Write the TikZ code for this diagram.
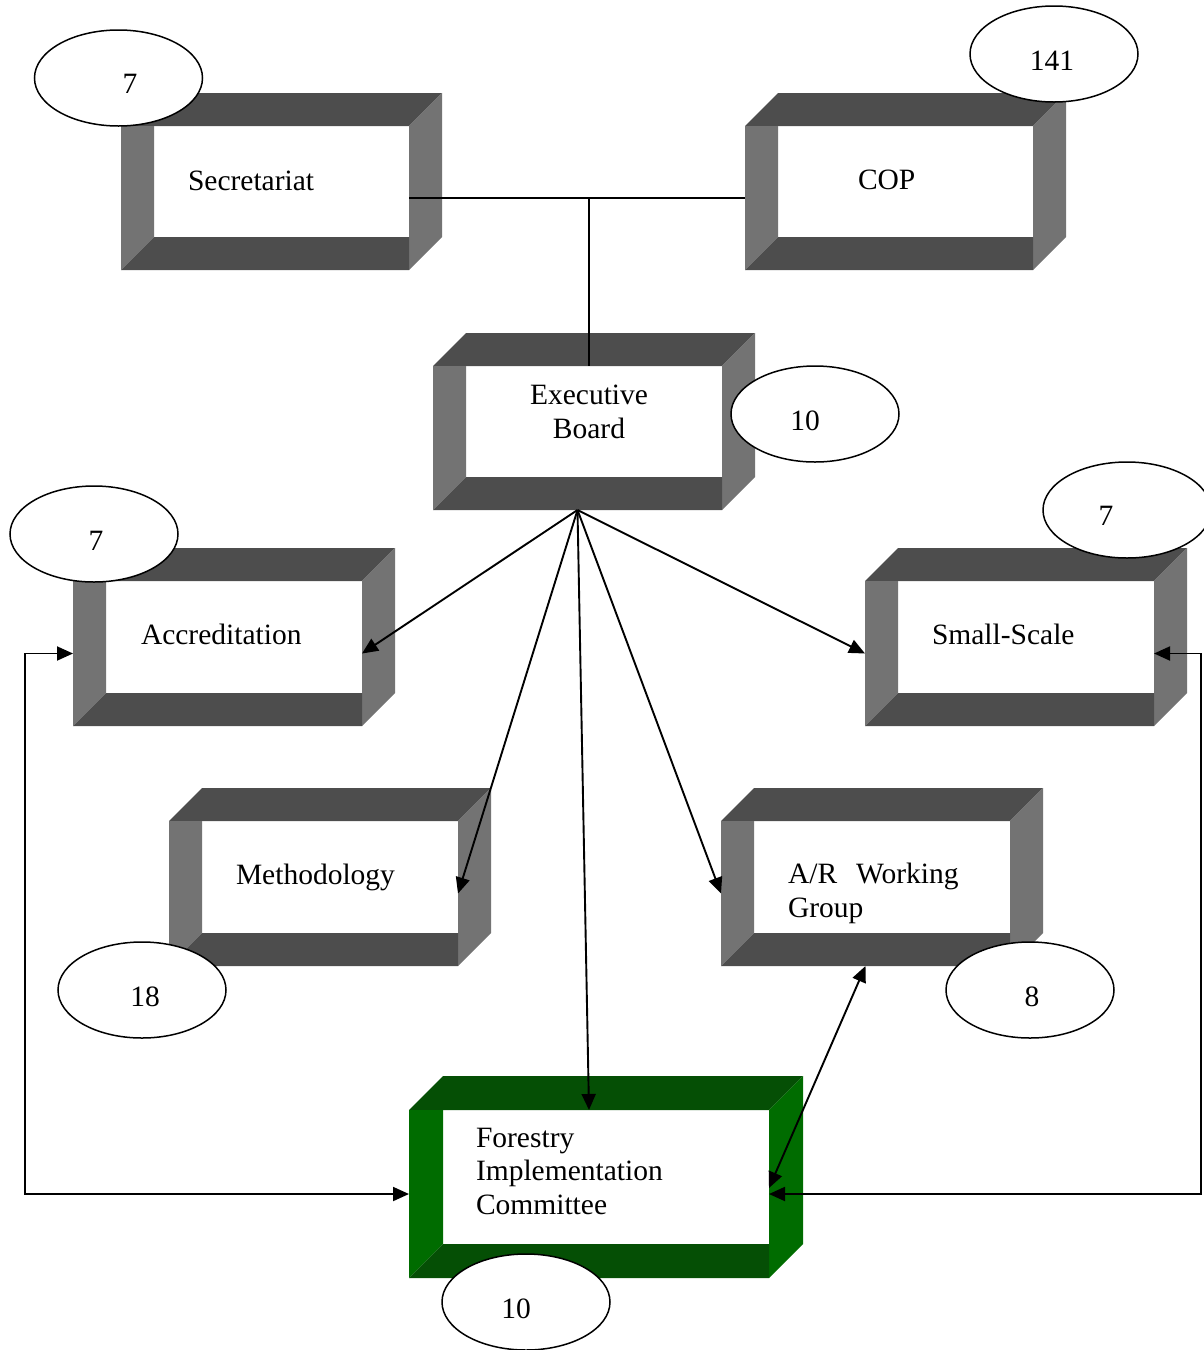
\documentclass[tikz,border=0pt]{standalone}
\usepackage{fontspec}
\setmainfont{Liberation Serif}
\usetikzlibrary{arrows.meta,shapes.geometric,calc}

\definecolor{bandDark}{HTML}{4D4D4D}
\definecolor{bandLight}{HTML}{737373}
\definecolor{greenDark}{HTML}{054F05}
\definecolor{greenLight}{HTML}{006C00}

% #1 node name, #2 left x, #3 top y of front face, #4 width, #5 height,
% #6 depth, #7 top/bottom colour, #8 left/right colour
\newcommand\bevelbox[8]{%
  \fill[#7] (#2,#3) -- ({#2+#6},{#3-#6}) -- ({#2+#4+#6},{#3-#6}) -- ({#2+#4},#3) -- cycle;
  \fill[#8] ({#2+#4},#3) -- ({#2+#4+#6},{#3-#6}) -- ({#2+#4+#6},{#3+#5-#6}) -- ({#2+#4},{#3+#5}) -- cycle;
  \fill[#8] (#2,#3) -- ({#2+#6},#3) -- ({#2+#6},{#3+#5-#6}) -- (#2,{#3+#5}) -- cycle;
  \fill[#7] (#2,{#3+#5}) -- ({#2+#6},{#3+#5-#6}) -- ({#2+#4},{#3+#5-#6}) -- ({#2+#4},{#3+#5}) -- cycle;
  \node[frontface, minimum width=#4, minimum height=#5] (#1) at ({#2+#4/2},{#3+#5/2}) {};
}

\tikzset{
  frontface/.style={rectangle, draw=none, inner sep=0pt, outer sep=0pt},
  label/.style={inner sep=0pt, outer sep=0pt, align=left,
    font=\fontsize{29.5}{33.5}\selectfont},
  oval/.style={ellipse, draw=black, line width=1.5pt, fill=white,
    minimum width=168, minimum height=96, inner sep=0pt},
  num/.style={inner sep=0pt, font=\fontsize{29.5}{33.5}\selectfont},
  link/.style={draw=black, line width=1.9pt},
  tip/.tip={Triangle[length=16pt,width=14pt]},
  arrow/.style={link, -tip},
  twoway/.style={link, tip-tip}
}

\begin{document}
\begin{tikzpicture}[x=1pt,y=-1pt]
\useasboundingbox (0,0) rectangle (1204,1350);

% boxes
\bevelbox{sec}{121}{126}{288}{144}{33}{bandDark}{bandLight}
\bevelbox{cop}{745}{126}{288}{144}{33}{bandDark}{bandLight}
\bevelbox{exec}{433}{366}{289}{144}{33}{bandDark}{bandLight}
\bevelbox{acc}{73}{581}{289}{145}{33}{bandDark}{bandLight}
\bevelbox{ss}{865}{581}{289}{145}{33}{bandDark}{bandLight}
\bevelbox{meth}{169}{821}{289}{145}{33}{bandDark}{bandLight}
\bevelbox{ar}{721}{821}{289}{145}{33}{bandDark}{bandLight}
\bevelbox{for}{409}{1110}{360}{168}{34}{greenDark}{greenLight}

% box texts (multi-line nodes sit on the baseline of their last line)
\node[label, anchor=base west] (secT) at (188,190) {Secretariat};
\node[label, anchor=base west] (copT) at (858,189) {COP};
\node[label, anchor=base, align=center] (execT) at (589,438) {Executive\\Board};
\node[label, anchor=base west] (accT) at (141,644) {Accreditation};
\node[label, anchor=base west] (ssT) at (932,644) {Small-Scale};
\node[label, anchor=base west] (methT) at (236,884) {Methodology};
\node[label, anchor=base west] (arT) at (788,917) {A/R\hspace{19pt}Working\\Group};
\node[label, anchor=base west] (forT) at (476,1214) {Forestry\\Implementation\\Committee};

% connectors
\coordinate (junction) at (589,198);
\draw[link] (sec.east) -- (cop.west);
\draw[link] (junction) -- (junction |- exec.north);

\draw[arrow] (exec.south) -- (acc.east);
\draw[arrow] (exec.south) -- (meth.east);
\draw[arrow] (exec.south) -- (for.north);
\draw[arrow] (exec.south) -- (ar.west);
\draw[arrow] (exec.south) -- (ss.west);

\coordinate (leftrail) at (25,0);
\coordinate (rightrail) at (1201,0);
\draw[twoway] (acc.west) -- (acc.west -| leftrail) |- (for.west);
\draw[twoway] (ss.east) -- (ss.east -| rightrail) |- (for.east);
\draw[twoway] (ar.south) -- ($(for.east)+(0,-6)$);

% member counts
\node[oval] (o1) at (118.5,78) {};
\node[num, anchor=base] (o1t) at (130,93) {7};
\node[oval] (o2) at (1054,54) {};
\node[num, anchor=base] (o2t) at (1052,70) {141};
\node[oval] (o3) at (815,414) {};
\node[num, anchor=base] (o3t) at (805,430) {10};
\node[oval] (o4) at (94,534) {};
\node[num, anchor=base] (o4t) at (96,550) {7};
\node[oval] (o5) at (1127,510) {};
\node[num, anchor=base] (o5t) at (1106,525) {7};
\node[oval] (o6) at (142,990) {};
\node[num, anchor=base] (o6t) at (145,1006) {18};
\node[oval] (o7) at (1030,990) {};
\node[num, anchor=base] (o7t) at (1032,1006) {8};
\node[oval] (o8) at (526,1302) {};
\node[num, anchor=base] (o8t) at (516,1318) {10};
\end{tikzpicture}
\end{document}
